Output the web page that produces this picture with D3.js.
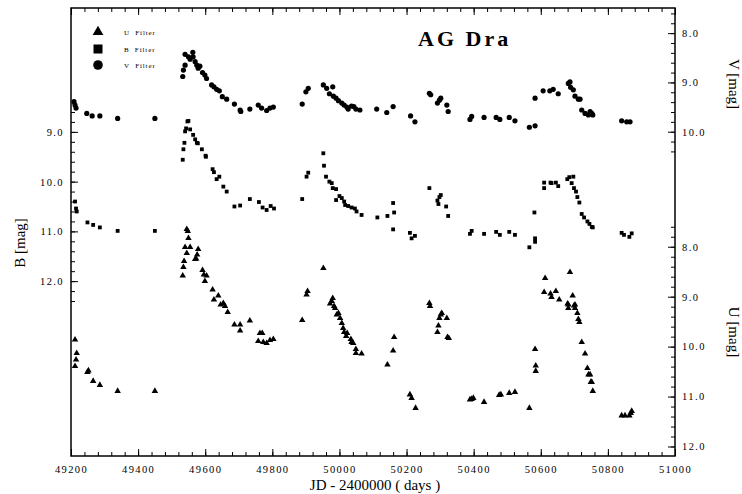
<!DOCTYPE html>
<html><head><meta charset="utf-8">
<script src="https://cdn.jsdelivr.net/npm/d3@7"></script>
<style>
body{margin:0;background:#fff}
svg{display:block}
text{font-family:"Liberation Serif","Times New Roman",serif;fill:#000}
</style>
</head><body>
<svg id="chart" width="742" height="494"></svg>
<script>
// ---------------- data ----------------
const titleText = "AG Dra";
const xLabel = "JD - 2400000 ( days )";
const bLabel = "B [mag]", vLabel = "V [mag]", uLabel = "U [mag]";
const legendLabels = ["U  Filter", "B  Filter", "V  Filter"];

const xMajorTicks = [49200,49400,49600,49800,50000,50200,50400,50600,50800,51000];
const bMajorTicks = [9,10,11,12];
const vMajorTicks = [8,9,10];
const uMajorTicks = [8,9,10,11,12];

// V filter: [JD-2400000, V mag]
const vData = [
[49209,9.39],[49212,9.46],[49215,9.52],[49247,9.63],[49263,9.68],[49286,9.68],[49339,9.73],[49450,9.73],
[49533,8.88],[49535,8.75],[49540,8.65],[49540,8.43],[49550,8.48],[49555,8.53],[49563,8.39],[49564,8.48],
[49570,8.58],[49575,8.65],[49579,8.71],[49584,8.67],[49592,8.80],[49599,8.85],[49604,8.92],[49619,9.05],
[49626,9.09],[49634,9.14],[49642,9.17],[49651,9.29],[49664,9.34],[49687,9.44],[49704,9.56],[49706,9.59],
[49733,9.54],[49758,9.46],[49768,9.52],[49783,9.57],[49793,9.52],[49803,9.50],
[49889,9.44],[49900,9.19],[49907,9.12],
[49952,9.05],[49962,9.12],[49980,9.09],[49970,9.23],[49982,9.28],[49990,9.32],[49997,9.37],[50007,9.42],
[50014,9.46],[50022,9.50],[50026,9.54],[50036,9.48],[50043,9.49],[50049,9.54],[50061,9.56],[50111,9.54],
[50141,9.61],[50160,9.49],[50212,9.68],[50225,9.80],
[50268,9.22],[50272,9.25],[50292,9.42],[50298,9.36],[50302,9.32],[50320,9.46],[50324,9.59],[50389,9.75],
[50394,9.69],[50431,9.71],[50467,9.71],[50478,9.75],[50506,9.71],[50523,9.78],[50566,9.91],[50583,9.88],
[50583,9.32],
[50607,9.17],[50627,9.17],[50637,9.14],[50652,9.23],[50682,9.02],[50687,8.99],[50689,9.10],[50697,9.15],
[50702,9.28],[50712,9.34],[50717,9.34],[50722,9.56],[50732,9.63],[50742,9.66],[50747,9.59],[50752,9.63],
[50755,9.66],[50841,9.78],[50856,9.80],[50866,9.80]
];

// B filter: [JD-2400000, B mag]
const bData = [
[49212,10.40],[49215,10.54],[49217,10.60],[49249,10.82],[49266,10.87],[49286,10.92],[49339,10.99],[49450,10.99],
[49533,9.56],[49535,9.35],[49538,9.22],[49540,8.99],[49543,8.93],[49547,8.79],[49550,8.78],[49555,8.95],
[49564,9.06],[49570,9.15],[49575,9.22],[49578,9.23],[49590,9.35],[49601,9.48],[49602,9.50],[49622,9.75],
[49626,9.81],[49634,9.95],[49642,9.90],[49654,10.10],[49664,10.20],[49687,10.50],[49704,10.48],[49733,10.35],
[49760,10.41],[49771,10.52],[49783,10.57],[49795,10.49],[49805,10.54],
[49889,10.35],[49902,9.90],[49907,9.82],
[49952,9.43],[49954,9.68],[49960,9.90],[49970,10.00],[49977,10.03],[49980,10.13],[49990,10.15],[49990,10.37],
[50000,10.29],[50007,10.33],[50014,10.40],[50017,10.47],[50026,10.49],[50036,10.52],[50046,10.54],[50051,10.60],
[50066,10.67],[50113,10.72],[50143,10.69],[50160,10.43],[50163,10.62],[50160,10.96],[50210,11.03],[50215,11.14],
[50225,11.09],
[50268,10.13],[50292,10.38],[50298,10.31],[50302,10.27],[50295,10.45],[50318,10.50],[50324,10.69],[50389,11.05],
[50394,10.99],[50431,11.05],[50467,11.01],[50478,11.07],[50506,11.01],[50523,11.07],[50566,11.32],[50583,11.21],
[50583,11.14],[50581,10.62],
[50610,10.02],[50610,10.13],[50629,10.02],[50632,10.03],[50645,10.02],[50652,10.09],[50679,9.95],[50685,9.91],
[50697,9.90],[50692,10.03],[50699,10.13],[50705,10.20],[50709,10.31],[50715,10.42],[50722,10.65],[50729,10.72],
[50739,10.80],[50745,10.85],[50752,10.91],[50755,10.92],[50841,11.03],[50848,11.07],[50864,11.11],[50871,11.04]
];

// U filter: [JD-2400000, U mag]
const uData = [
[49212,9.86],[49217,10.13],[49215,10.26],[49212,10.39],[49249,10.51],[49252,10.48],[49266,10.69],[49286,10.77],
[49339,10.89],[49450,10.89],
[49545,7.65],[49548,7.69],[49550,7.83],[49540,8.01],[49555,8.01],[49545,8.13],[49579,8.05],[49576,8.16],
[49570,8.25],[49573,8.24],[49537,8.29],[49535,8.41],[49533,8.58],[49592,8.47],[49596,8.56],[49604,8.58],
[49599,8.69],[49622,8.86],[49639,8.98],[49626,9.06],[49646,9.16],[49654,9.13],[49659,9.19],[49667,9.31],
[49687,9.56],[49704,9.56],[49704,9.68],[49733,9.48],[49758,9.89],[49763,9.73],[49770,9.73],[49773,9.91],
[49783,9.93],[49793,9.87],[49803,9.85],
[49889,9.47],[49902,8.96],[49905,8.89],
[49952,8.43],[49972,9.14],[49977,9.09],[49980,9.03],[49984,9.19],[49987,9.23],[49992,9.36],[49997,9.33],
[50002,9.43],[50007,9.53],[50011,9.63],[50014,9.71],[50020,9.79],[50023,9.73],[50034,9.85],[50036,9.91],
[50041,9.93],[50049,10.05],[50049,10.13],[50066,10.14],[50143,10.36],[50163,9.81],[50160,10.08],[50210,10.96],
[50215,11.03],[50227,11.23],
[50268,9.13],[50270,9.19],[50292,9.71],[50295,9.58],[50298,9.43],[50302,9.36],[50305,9.33],[50320,9.43],
[50322,9.81],[50326,9.83],[50389,11.06],[50394,11.05],[50399,11.03],[50431,11.11],[50476,10.97],[50481,10.96],
[50506,10.93],[50523,10.91],[50566,11.23],[50583,10.05],[50585,10.38],[50585,10.49],
[50613,8.63],[50687,8.51],[50610,8.91],[50629,8.94],[50632,9.01],[50645,8.89],[50655,9.06],[50680,9.14],
[50682,9.16],[50682,9.23],[50695,8.98],[50699,9.18],[50702,9.16],[50702,9.23],[50709,9.33],[50712,9.45],
[50715,9.51],[50722,9.91],[50732,10.14],[50739,10.43],[50742,10.56],[50747,10.56],[50749,10.71],[50752,10.71],
[50755,10.89],[50841,11.38],[50851,11.38],[50864,11.38],[50868,11.33],[50871,11.29]
];

// ---------------- layout ----------------
const L = 71, R = 675, T = 8, B = 456;
const svg = d3.select("#chart");

const x = d3.scaleLinear().domain([49200, 51000]).range([L, R]);
const yB = d3.scaleLinear().domain([6.51, 15.515]).range([T, B]);
const yV = d3.scaleLinear().domain([7.49, 16.58]).range([T, B]);
const yU = d3.scaleLinear().domain([3.22, 12.19]).range([T, B]);

const fmt1 = d3.format(".1f");
const tickFont = g => g.selectAll("text")
  .style("font-family", '"Liberation Serif", serif')
  .style("font-size", "10.5px").style("letter-spacing", "1.4px").attr("fill", "#000");
const clean = g => { g.select(".domain").remove(); g.selectAll("line").attr("stroke", "#000"); };

// X axis bottom: minor + major
const xMinor = d3.range(49200, 51001, 40);
svg.append("g").attr("transform", `translate(0,${B})`)
  .call(d3.axisBottom(x).tickValues(xMinor).tickSize(-4).tickFormat(""))
  .call(clean);
svg.append("g").attr("transform", `translate(0,${B})`)
  .call(d3.axisBottom(x).tickValues(xMajorTicks).tickSize(-7).tickPadding(10).tickFormat(d3.format("d")))
  .call(clean).call(tickFont);
// X axis top
svg.append("g").attr("transform", `translate(0,${T})`)
  .call(d3.axisTop(x).tickValues(xMinor).tickSize(-4).tickFormat(""))
  .call(clean);
svg.append("g").attr("transform", `translate(0,${T})`)
  .call(d3.axisTop(x).tickValues(xMajorTicks).tickSize(-7).tickFormat(""))
  .call(clean);

// Left B axis
const bMinor = d3.range(43, 63).map(d => d / 5);
svg.append("g").attr("transform", `translate(${L},0)`)
  .call(d3.axisLeft(yB).tickValues(bMinor).tickSize(-4).tickFormat(""))
  .call(clean);
svg.append("g").attr("transform", `translate(${L},0)`)
  .call(d3.axisLeft(yB).tickValues(bMajorTicks).tickSize(-7).tickPadding(7).tickFormat(fmt1))
  .call(clean).call(tickFont);

// Right V axis
const vMinor = d3.range(38, 53).map(d => d / 5);
svg.append("g").attr("transform", `translate(${R},0)`)
  .call(d3.axisRight(yV).tickValues(vMinor).tickSize(-4).tickFormat(""))
  .call(clean);
svg.append("g").attr("transform", `translate(${R},0)`)
  .call(d3.axisRight(yV).tickValues(vMajorTicks).tickSize(-7).tickPadding(7).tickFormat(fmt1))
  .call(clean).call(tickFont);

// Right U axis
const uMinor = d3.range(38, 61).map(d => d / 5);
svg.append("g").attr("transform", `translate(${R},0)`)
  .call(d3.axisRight(yU).tickValues(uMinor).tickSize(-4).tickFormat(""))
  .call(clean);
svg.append("g").attr("transform", `translate(${R},0)`)
  .call(d3.axisRight(yU).tickValues(uMajorTicks).tickSize(-7).tickPadding(7).tickFormat(fmt1))
  .call(clean).call(tickFont);

// Frame
svg.append("rect").attr("x", L).attr("y", T).attr("width", R - L).attr("height", B - T)
  .attr("fill", "none").attr("stroke", "#000").attr("stroke-width", 1.5);

// ---------------- marks ----------------
const tri = d3.symbol().type(d3.symbolTriangle);
svg.append("g").selectAll("path").data(uData).join("path")
  .attr("d", tri.size(18)())
  .attr("transform", d => `translate(${x(d[0])},${yU(d[1])})`)
  .attr("fill", "#000");

svg.append("g").selectAll("rect").data(bData).join("rect")
  .attr("x", d => x(d[0]) - 1.9).attr("y", d => yB(d[1]) - 1.9)
  .attr("width", 3.8).attr("height", 3.8).attr("fill", "#000");

svg.append("g").selectAll("circle").data(vData).join("circle")
  .attr("cx", d => x(d[0])).attr("cy", d => yV(d[1])).attr("r", 2.6).attr("fill", "#000");

// ---------------- legend ----------------
const leg = svg.append("g");
const legY = [32, 49, 65];
leg.append("path").attr("d", d3.symbol().type(d3.symbolTriangle).size(50)())
  .attr("transform", `translate(98,${legY[0]})`).attr("fill", "#000");
leg.append("rect").attr("x", 93.5).attr("y", legY[1] - 4.5).attr("width", 9).attr("height", 9).attr("fill", "#000");
leg.append("circle").attr("cx", 98).attr("cy", legY[2]).attr("r", 4.8).attr("fill", "#000");
leg.selectAll("text").data(legendLabels).join("text")
  .attr("x", 124).attr("y", (d, i) => legY[i] + 2.5).attr("fill", "#000")
  .style("font-size", "7px").style("letter-spacing", "0.9px").style("white-space", "pre")
  .text(d => d);

// ---------------- titles ----------------
svg.append("text").attr("x", 418).attr("y", 46).attr("fill", "#000")
  .style("font-size", "22px").style("font-weight", "bold").style("letter-spacing", "3px")
  .text(titleText);

svg.append("text").attr("x", 375).attr("y", 490).attr("text-anchor", "middle").attr("fill", "#000")
  .style("font-size", "15px").text(xLabel);

svg.append("text").attr("transform", "translate(25,243) rotate(-90)").attr("text-anchor", "middle").attr("fill", "#000")
  .style("font-size", "15px").text(bLabel);
svg.append("text").attr("transform", "translate(729,84) rotate(90)").attr("text-anchor", "middle").attr("fill", "#000")
  .style("font-size", "15px").text(vLabel);
svg.append("text").attr("transform", "translate(729,332) rotate(90)").attr("text-anchor", "middle").attr("fill", "#000")
  .style("font-size", "15px").text(uLabel);
</script>
</body></html>
